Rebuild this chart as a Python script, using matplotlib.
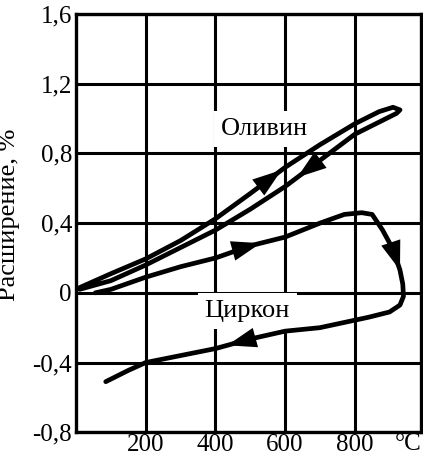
import numpy as np
import matplotlib.pyplot as plt

# olivine: heating (upper branch) then cooling (lower branch)
oliv_x = [10, 100, 200, 300, 400, 500, 600, 700, 800, 870, 910, 930,
          920, 880, 800, 700, 600, 500, 400, 300, 200, 100, 10]
oliv_y = [0.03, 0.11, 0.195, 0.30, 0.425, 0.57, 0.72, 0.85, 0.97, 1.04, 1.065, 1.05,
          1.03, 0.99, 0.91, 0.76, 0.61, 0.48, 0.36, 0.26, 0.16, 0.07, 0.02]

# zircon: heating, then cooling
zirc_x = [55, 100, 200, 300, 400, 500, 600, 700, 770, 820, 850, 880, 910, 930, 938,
          940, 930, 900, 840, 700, 600, 500, 400, 300, 200, 150, 85]
zirc_y = [0.0, 0.02, 0.09, 0.15, 0.2, 0.27, 0.32, 0.40, 0.45, 0.46, 0.45, 0.36, 0.25, 0.13, 0.05,
          -0.02, -0.07, -0.11, -0.14, -0.2, -0.22, -0.265, -0.32, -0.36, -0.40, -0.445, -0.51]

# arrow tips, as fractional point index along each path
oliv_arrows = [5.9, 15.65]
zirc_arrows = [5.3, 13.0, 21.66]

x_ticks = [200, 400, 600, 800]
y_ticks = [-0.8, -0.4, 0, 0.4, 0.8, 1.2, 1.6]
y_labels = ['-0,8', '-0,4', '0', '0,4', '0,8', '1,2', '1,6']

plt.rcParams['font.family'] = ['Liberation Serif', 'DejaVu Serif']

fig = plt.figure(figsize=(4.23, 4.54), dpi=100)
ax = fig.add_axes([0.180, 0.048, 0.815, 0.921])
ax.set_xlim(0, 990)
ax.set_ylim(-0.8, 1.6)

# grid drawn as thick black lines
for x in x_ticks:
    ax.axvline(x, color='black', lw=2.2, zorder=1)
for y in y_ticks:
    ax.axhline(y, color='black', lw=2.2, zorder=1)
for s in ax.spines.values():
    s.set_linewidth(2.4)

ax.set_xticks(x_ticks)
ax.set_xticklabels([str(x) for x in x_ticks])
ax.set_yticks(y_ticks)
ax.set_yticklabels(y_labels)
ax.tick_params(axis='y', length=0, labelsize=18, pad=3)
ax.tick_params(axis='x', length=0, labelsize=18, pad=1)
ax.text(953, -0.807, '°C', fontsize=18, ha='center', va='top')

ax.set_ylabel('Расширение, %', fontsize=19)
ax.yaxis.set_label_coords(-0.162, 0.52)


def arrows(xs, ys, positions):
    idx = np.arange(len(xs))
    for p in positions:
        tip = (np.interp(p, idx, xs), np.interp(p, idx, ys))
        tail = (np.interp(p - 0.4, idx, xs), np.interp(p - 0.4, idx, ys))
        ax.annotate('', xy=tip, xytext=tail, zorder=4,
                    arrowprops=dict(arrowstyle='-|>,head_length=1.05,head_width=0.36',
                                    color='black', lw=0, mutation_scale=20,
                                    shrinkA=0, shrinkB=0))


ax.plot(oliv_x, oliv_y, color='black', lw=3.4, zorder=3,
        solid_capstyle='round', solid_joinstyle='round')
ax.plot(zirc_x, zirc_y, color='black', lw=3.4, zorder=3,
        solid_capstyle='round', solid_joinstyle='round')
arrows(oliv_x, oliv_y, oliv_arrows)
arrows(zirc_x, zirc_y, zirc_arrows)

box = dict(facecolor='white', edgecolor='none', pad=5)
ax.text(540, 0.94, 'Оливин', fontsize=19, ha='center', va='center', bbox=box, zorder=2)
ax.text(491, -0.105, 'Циркон', fontsize=19, ha='center', va='center', bbox=box, zorder=2)

fig.savefig('out.png', dpi=100)
